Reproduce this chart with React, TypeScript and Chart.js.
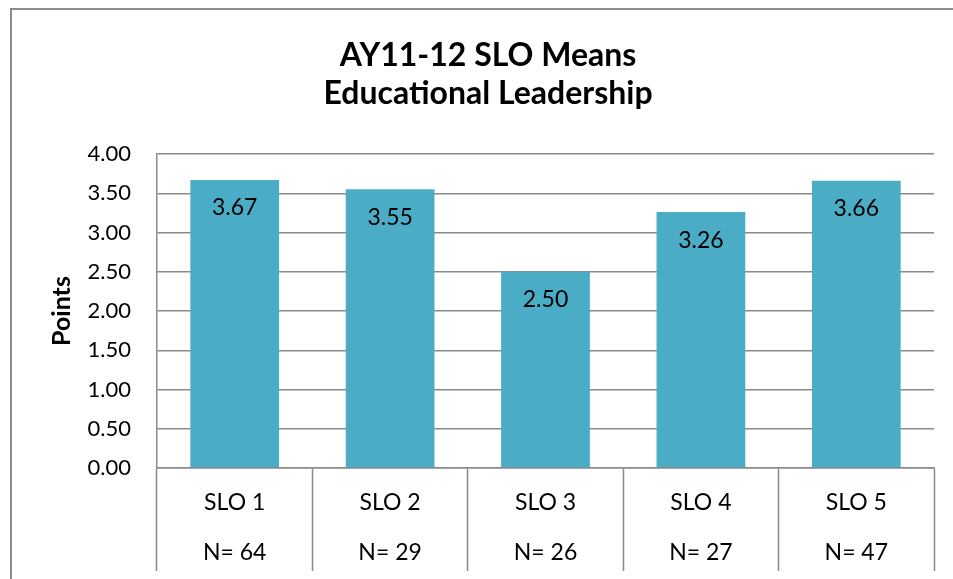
import React, { useEffect, useRef } from "react";
import { Chart, registerables } from "chart.js";

Chart.register(...registerables);

const categories = ["SLO 1", "SLO 2", "SLO 3", "SLO 4", "SLO 5"];
const sampleSizes = ["N= 64", "N= 29", "N= 26", "N= 27", "N= 47"];
const means = [3.67, 3.55, 2.5, 3.26, 3.66];
const titleLines = ["AY11-12 SLO Means", "Educational Leadership"];
const yAxisTitle = "Points";
const yMin = 0;
const yMax = 4;
const yStep = 0.5;

const FONT = "Lato, 'Open Sans', sans-serif";
const GRID = "#8a8a8a";
const BAR = "#4BACC6";

const frame = {
  id: "frame",
  beforeDraw(chart: any) {
    const ctx = chart.ctx;
    ctx.save();
    ctx.strokeStyle = "#8c8c8c";
    ctx.lineWidth = 2;
    ctx.beginPath();
    ctx.moveTo(11, chart.height);
    ctx.lineTo(11, 9);
    ctx.lineTo(chart.width, 9);
    ctx.stroke();
    ctx.restore();
  },
};

const valueLabels = {
  id: "valueLabels",
  afterDatasetsDraw(chart: any) {
    const ctx = chart.ctx;
    const meta = chart.getDatasetMeta(0);
    ctx.save();
    ctx.font = `23px ${FONT}`;
    ctx.fillStyle = "#000";
    ctx.textAlign = "center";
    ctx.textBaseline = "middle";
    meta.data.forEach((bar: any, i: number) => {
      const v = chart.data.datasets[0].data[i] as number;
      ctx.fillText(v.toFixed(2), bar.x, bar.y + 28);
    });
    ctx.restore();
  },
};

export default function App() {
  const ref = useRef<HTMLCanvasElement>(null);

  useEffect(() => {
    if (!ref.current) return;
    const labels = categories.map((c, i) => [c, sampleSizes[i]]);
    const chart = new Chart(ref.current, {
      type: "bar",
      data: {
        labels,
        datasets: [
          {
            data: means,
            backgroundColor: BAR,
            borderWidth: 0,
            barPercentage: 0.571,
            categoryPercentage: 1,
          },
        ],
      },
      options: {
        animation: false,
        responsive: false,
        devicePixelRatio: 1,
        layout: { padding: { left: 42, right: 19, top: 0, bottom: 0 } },
        plugins: {
          legend: { display: false },
          tooltip: { enabled: false },
          title: {
            display: true,
            text: titleLines,
            color: "#000",
            font: { family: FONT, size: 32, weight: "bold", lineHeight: 38 / 32 },
            padding: { top: 36.5, bottom: 41.5 },
          },
        },
        scales: {
          x: {
            offset: true,
            grid: {
              offset: true,
              drawOnChartArea: false,
              drawTicks: true,
              tickLength: 103,
              tickColor: GRID,
              tickWidth: 1.5,
            },
            border: { display: true, color: GRID, width: 1.5 },
            ticks: {
              color: "#000",
              font: { family: FONT, size: 23, lineHeight: 50 / 23 },
              padding: -93,
              autoSkip: false,
              maxRotation: 0,
              minRotation: 0,
            },
            afterFit(scale: any) {
              scale.height = 111;
            },
          },
          y: {
            min: yMin,
            max: yMax,
            grid: { color: GRID, lineWidth: 1.5, drawTicks: false },
            border: { display: true, color: GRID, width: 1.5 },
            ticks: {
              stepSize: yStep,
              color: "#000",
              font: { family: FONT, size: 22 },
              padding: 26,
              callback: (v: any) => Number(v).toFixed(2),
            },
            title: {
              display: true,
              text: yAxisTitle,
              color: "#000",
              font: { family: FONT, size: 25, weight: "bold", lineHeight: 1.2 },
              padding: { top: 5, bottom: 0 },
            },
            afterFit(scale: any) {
              scale.width = 115;
            },
          },
        },
      },
      plugins: [frame, valueLabels],
    });
    return () => chart.destroy();
  }, []);

  return (
    <div style={{ position: "fixed", left: 0, top: 0, width: 953, height: 579, background: "#fff" }}>
      <canvas ref={ref} width={953} height={579} style={{ width: 953, height: 579, display: "block" }} />
    </div>
  );
}
